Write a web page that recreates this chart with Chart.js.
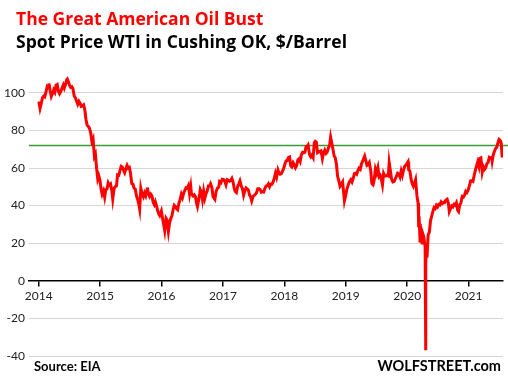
<!DOCTYPE html>
<html>
<head>
<meta charset="utf-8">
<script src="https://cdn.jsdelivr.net/npm/chart.js@4"></script>
<style>
  html, body { margin: 0; padding: 0; background: #fff; }
  #wrap { width: 508px; height: 386px; }
</style>
</head>
<body>
<div id="wrap"><canvas id="oilChart"></canvas></div>
<script>
// WTI spot, Cushing OK ($/barrel), roughly weekly readings
const dates = [
  '2014-01-02','2014-01-09','2014-01-16','2014-01-23','2014-01-30','2014-02-06','2014-02-13','2014-02-20','2014-02-27',
  '2014-03-03','2014-03-10','2014-03-17','2014-03-24','2014-03-31','2014-04-07','2014-04-14','2014-04-21','2014-04-28',
  '2014-05-05','2014-05-12','2014-05-19','2014-05-27','2014-06-02','2014-06-09','2014-06-16','2014-06-20','2014-06-27',
  '2014-07-03','2014-07-10','2014-07-17','2014-07-24','2014-07-31','2014-08-07','2014-08-14','2014-08-21','2014-08-28',
  '2014-09-04','2014-09-11','2014-09-18','2014-09-25','2014-10-02','2014-10-09','2014-10-16','2014-10-23','2014-10-30',
  '2014-11-06','2014-11-13','2014-11-20','2014-11-28','2014-12-04','2014-12-11','2014-12-18','2014-12-24','2014-12-31',
  '2015-01-07','2015-01-13','2015-01-21','2015-01-28','2015-02-04','2015-02-11','2015-02-18','2015-02-25','2015-03-04',
  '2015-03-11','2015-03-17','2015-03-25','2015-04-01','2015-04-08','2015-04-15','2015-04-22','2015-04-29','2015-05-06',
  '2015-05-13','2015-05-20','2015-05-27','2015-06-03','2015-06-10','2015-06-17','2015-06-24','2015-07-01','2015-07-08',
  '2015-07-15','2015-07-22','2015-07-29','2015-08-05','2015-08-12','2015-08-19','2015-08-24','2015-08-31','2015-09-08',
  '2015-09-15','2015-09-22','2015-09-29','2015-10-07','2015-10-09','2015-10-15','2015-10-22','2015-10-29','2015-11-05',
  '2015-11-12','2015-11-19','2015-11-25','2015-12-02','2015-12-09','2015-12-16','2015-12-21','2015-12-31',
  '2016-01-07','2016-01-13','2016-01-20','2016-01-28','2016-02-03','2016-02-11','2016-02-18','2016-02-25','2016-03-03',
  '2016-03-10','2016-03-17','2016-03-24','2016-03-31','2016-04-06','2016-04-14','2016-04-21','2016-04-28','2016-05-05',
  '2016-05-12','2016-05-19','2016-05-26','2016-06-02','2016-06-09','2016-06-16','2016-06-23','2016-06-27','2016-07-07',
  '2016-07-14','2016-07-21','2016-07-28','2016-08-02','2016-08-09','2016-08-16','2016-08-19','2016-08-25','2016-09-01',
  '2016-09-08','2016-09-15','2016-09-22','2016-09-29','2016-10-06','2016-10-13','2016-10-19','2016-10-27','2016-11-03',
  '2016-11-14','2016-11-21','2016-11-30','2016-12-07','2016-12-12','2016-12-20','2016-12-28',
  '2017-01-05','2017-01-12','2017-01-19','2017-01-26','2017-02-02','2017-02-09','2017-02-16','2017-02-23','2017-03-02',
  '2017-03-09','2017-03-14','2017-03-22','2017-03-30','2017-04-06','2017-04-12','2017-04-20','2017-04-27','2017-05-04',
  '2017-05-11','2017-05-18','2017-05-25','2017-06-01','2017-06-08','2017-06-15','2017-06-21','2017-06-29','2017-07-06',
  '2017-07-13','2017-07-20','2017-07-27','2017-08-03','2017-08-10','2017-08-17','2017-08-24','2017-08-31','2017-09-07',
  '2017-09-14','2017-09-21','2017-09-28','2017-10-05','2017-10-12','2017-10-19','2017-10-26','2017-11-02','2017-11-09',
  '2017-11-16','2017-11-24','2017-11-30','2017-12-07','2017-12-14','2017-12-21','2017-12-28',
  '2018-01-04','2018-01-11','2018-01-18','2018-01-25','2018-02-01','2018-02-08','2018-02-14','2018-02-22','2018-03-01',
  '2018-03-08','2018-03-15','2018-03-22','2018-03-29','2018-04-05','2018-04-12','2018-04-19','2018-04-26','2018-05-03',
  '2018-05-10','2018-05-17','2018-05-22','2018-05-31','2018-06-07','2018-06-14','2018-06-21','2018-06-28','2018-07-03',
  '2018-07-10','2018-07-17','2018-07-24','2018-07-31','2018-08-07','2018-08-15','2018-08-22','2018-08-29','2018-09-06',
  '2018-09-13','2018-09-20','2018-09-27','2018-10-03','2018-10-10','2018-10-17','2018-10-24','2018-10-31','2018-11-07',
  '2018-11-13','2018-11-20','2018-11-28','2018-12-06','2018-12-13','2018-12-19','2018-12-24','2018-12-31',
  '2019-01-07','2019-01-14','2019-01-22','2019-01-31','2019-02-07','2019-02-14','2019-02-21','2019-02-28','2019-03-07',
  '2019-03-14','2019-03-21','2019-03-28','2019-04-04','2019-04-11','2019-04-23','2019-04-30','2019-05-07','2019-05-14',
  '2019-05-21','2019-05-29','2019-06-05','2019-06-12','2019-06-19','2019-06-26','2019-07-03','2019-07-11','2019-07-18',
  '2019-07-25','2019-08-01','2019-08-07','2019-08-14','2019-08-21','2019-08-28','2019-09-04','2019-09-11','2019-09-16',
  '2019-09-23','2019-09-30','2019-10-08','2019-10-15','2019-10-22','2019-10-29','2019-11-05','2019-11-12','2019-11-19',
  '2019-11-26','2019-12-03','2019-12-10','2019-12-17','2019-12-26',
  '2020-01-06','2020-01-10','2020-01-17','2020-01-24','2020-01-31','2020-02-07','2020-02-14','2020-02-20','2020-02-28',
  '2020-03-06','2020-03-09','2020-03-13','2020-03-18','2020-03-25','2020-03-30','2020-04-02','2020-04-08','2020-04-14',
  '2020-04-17','2020-04-20','2020-04-21','2020-04-24','2020-04-28','2020-05-05','2020-05-12','2020-05-19','2020-05-26',
  '2020-06-02','2020-06-09','2020-06-16','2020-06-23','2020-06-30','2020-07-07','2020-07-14','2020-07-21','2020-07-28',
  '2020-08-04','2020-08-11','2020-08-18','2020-08-26','2020-09-02','2020-09-08','2020-09-15','2020-09-22','2020-09-29',
  '2020-10-06','2020-10-13','2020-10-20','2020-10-28','2020-11-02','2020-11-09','2020-11-16','2020-11-24','2020-12-01',
  '2020-12-08','2020-12-15','2020-12-22','2020-12-30',
  '2021-01-06','2021-01-13','2021-01-20','2021-01-27','2021-02-03','2021-02-10','2021-02-17','2021-02-24','2021-03-03',
  '2021-03-08','2021-03-15','2021-03-23','2021-03-30','2021-04-06','2021-04-13','2021-04-20','2021-04-27','2021-05-04',
  '2021-05-11','2021-05-18','2021-05-21','2021-05-27','2021-06-03','2021-06-10','2021-06-17','2021-06-24','2021-07-01',
  '2021-07-06','2021-07-09','2021-07-14','2021-07-19','2021-07-20'
];
const prices = [
  95.4, 91.7, 94.2, 97.3, 98.2, 97.8, 100.3, 103.3, 102.6,
  104.9, 101.1, 98.1, 99.6, 101.6, 100.4, 104.0, 104.4, 100.8,
  99.5, 100.6, 102.4, 104.1, 102.5, 104.4, 106.9, 107.3, 105.7,
  104.1, 102.9, 103.2, 102.1, 98.2, 97.4, 95.6, 93.9, 95.5,
  94.5, 92.8, 93.1, 93.6, 91.0, 85.8, 82.7, 82.1, 81.1,
  78.7, 74.2, 75.6, 66.2, 67.4, 59.9, 54.1, 55.8, 53.5,
  48.7, 46.0, 47.8, 44.5, 48.5, 48.8, 52.1, 50.9, 51.5,
  48.2, 43.5, 49.2, 50.1, 50.4, 56.4, 56.2, 58.6, 60.9,
  60.5, 58.9, 57.5, 59.6, 61.4, 59.9, 60.3, 56.9, 51.7,
  51.4, 49.2, 48.8, 45.2, 43.3, 40.8, 38.2, 49.2, 45.9,
  44.6, 46.7, 45.2, 48.5, 49.6, 46.4, 44.9, 46.1, 45.2,
  41.8, 40.5, 42.0, 40.0, 37.2, 35.5, 34.7, 37.1,
  33.3, 30.4, 26.7, 33.2, 32.3, 26.2, 30.8, 33.1, 34.6,
  37.9, 40.2, 39.5, 38.3, 37.8, 41.5, 43.2, 46.0, 44.3,
  46.7, 48.1, 49.5, 49.2, 50.6, 46.2, 50.1, 46.3, 45.1,
  45.7, 44.8, 41.1, 39.5, 42.8, 46.6, 48.5, 47.3, 43.2,
  47.6, 43.9, 46.3, 47.8, 50.4, 50.4, 51.6, 49.7, 44.7,
  43.3, 47.5, 49.4, 49.8, 52.8, 52.2, 54.0,
  53.8, 53.0, 51.1, 53.8, 53.5, 53.0, 53.4, 54.5, 52.6,
  49.3, 47.7, 47.0, 50.4, 51.7, 53.1, 50.3, 49.0, 45.5,
  47.8, 49.4, 48.9, 48.3, 45.6, 44.5, 42.5, 44.9, 45.5,
  46.0, 46.9, 49.0, 49.0, 48.6, 47.1, 47.4, 47.2, 49.1,
  50.4, 50.6, 51.6, 50.0, 51.3, 51.3, 52.6, 54.5, 57.2,
  55.1, 58.9, 57.4, 56.7, 57.0, 58.3, 59.8,
  62.0, 63.8, 63.9, 65.5, 65.8, 61.2, 60.6, 62.8, 61.6,
  60.1, 61.2, 64.3, 64.9, 63.5, 67.1, 68.3, 68.1, 68.4,
  71.4, 71.5, 72.2, 67.0, 65.9, 66.9, 65.6, 73.5, 74.2,
  73.8, 68.1, 68.5, 68.8, 69.1, 65.0, 67.9, 69.5, 67.8,
  68.6, 70.8, 72.1, 76.4, 73.2, 69.8, 66.4, 65.3, 61.7,
  55.7, 53.4, 50.3, 51.5, 52.6, 47.2, 42.5, 45.2,
  48.5, 50.5, 52.6, 53.8, 52.6, 54.4, 57.0, 57.2, 56.7,
  58.6, 59.9, 59.3, 62.1, 63.6, 66.3, 63.9, 61.4, 61.8,
  62.9, 58.8, 51.7, 51.1, 53.8, 59.4, 57.3, 60.2, 55.3,
  56.0, 53.9, 51.1, 57.1, 55.7, 55.8, 56.2, 55.8, 62.9,
  58.6, 54.1, 52.6, 52.8, 54.2, 55.5, 57.2, 56.8, 55.2,
  58.4, 56.1, 58.9, 60.9, 61.7,
  63.3, 59.0, 58.5, 54.2, 51.6, 50.3, 52.1, 53.8, 45.3,
  41.3, 31.1, 31.7, 20.4, 24.5, 20.1, 25.3, 23.6, 20.1,
  18.3, -37.0, 8.9, 16.9, 12.3, 24.6, 25.8, 32.0, 34.4,
  36.8, 38.9, 38.4, 40.1, 39.3, 40.6, 40.3, 41.9, 41.1,
  41.7, 41.6, 42.9, 43.4, 41.5, 36.8, 38.3, 39.8, 39.3,
  40.7, 40.2, 41.5, 37.4, 36.8, 40.3, 41.4, 44.9, 44.6,
  45.6, 47.6, 47.0, 48.4,
  50.6, 53.2, 53.3, 52.9, 56.0, 58.7, 61.1, 63.2, 60.9,
  65.1, 65.4, 57.8, 60.6, 59.3, 60.2, 62.4, 63.0, 65.7,
  65.3, 65.5, 63.6, 66.8, 68.8, 70.3, 71.0, 73.3, 75.2,
  75.2, 74.5, 73.1, 66.4, 67.4
];
const yearLabels = [2014, 2015, 2016, 2017, 2018, 2019, 2020, 2021];
const yTicks = [-40, -20, 0, 20, 40, 60, 80, 100];
const refLevel = 72;   // the green reference line

const xMin = 2013.84, xMax = 2021.56;

function toYear(s) {
  const [y, m, d] = s.split('-').map(Number);
  const start = Date.UTC(y, 0, 1), end = Date.UTC(y + 1, 0, 1);
  return y + (Date.UTC(y, m - 1, d) - start) / (end - start);
}

const series = dates.map((d, i) => ({ x: toYear(d), y: prices[i] }));

// title, subtitle and the footer notes
const textPlugin = {
  id: 'texts',
  afterDraw(chart) {
    const ctx = chart.ctx;
    ctx.save();
    ctx.textBaseline = 'alphabetic';
    ctx.font = 'bold 17.5px "Open Sans"';
    ctx.fillStyle = '#ff0000';
    ctx.fillText('The Great American Oil Bust', 16, 25);
    ctx.fillStyle = '#000';
    ctx.fillText('Spot Price WTI in Cushing OK, $/Barrel', 16, 48);
    ctx.font = 'bold 13px Lato';
    ctx.fillText('Source: EIA', 34, 371);
    ctx.textAlign = 'right';
    ctx.font = 'bold 14.5px Lato';
    ctx.fillText('WOLFSTREET.com', 501, 371);
    ctx.restore();
  }
};

const ctx = document.getElementById('oilChart').getContext('2d');
new Chart(ctx, {
  type: 'line',
  data: {
    datasets: [{
      label: 'WTI',
      data: series,
      borderColor: '#ff0000',
      borderWidth: 3,
      pointRadius: 0,
      tension: 0,
      order: 1
    }, {
      label: 'ref',
      data: [{ x: xMin, y: refLevel }, { x: xMax + 0.09, y: refLevel }],
      borderColor: '#3a9a3a',
      borderWidth: 1.5,
      pointRadius: 0,
      clip: false,
      order: 2
    }]
  },
  options: {
    responsive: true,
    maintainAspectRatio: false,
    animation: false,
    layout: { padding: { top: 74, left: 0, right: 5, bottom: 30 } },
    scales: {
      x: {
        type: 'linear',
        min: xMin,
        max: xMax,
        position: { y: 0 },
        afterBuildTicks: axis => { axis.ticks = yearLabels.map(v => ({ value: v })); },
        ticks: {
          color: '#222',
          font: { family: 'Lato', size: 12 },
          padding: 3,
          maxRotation: 0,
          callback: v => String(v)
        },
        grid: { drawOnChartArea: false, drawTicks: true, tickLength: 5, color: '#000', lineWidth: 1.5 },
        border: { color: '#000', width: 1.5 }
      },
      y: {
        min: -40,
        max: 110,
        afterBuildTicks: axis => { axis.ticks = yTicks.map(v => ({ value: v })); },
        ticks: {
          color: '#222',
          font: { family: 'Lato', size: 12 },
          padding: 4
        },
        grid: { color: '#d6d6d6', lineWidth: 1, drawTicks: false },
        border: { display: false }
      }
    },
    plugins: {
      legend: { display: false },
      tooltip: { enabled: false }
    }
  },
  plugins: [textPlugin]
});
</script>
</body>
</html>
